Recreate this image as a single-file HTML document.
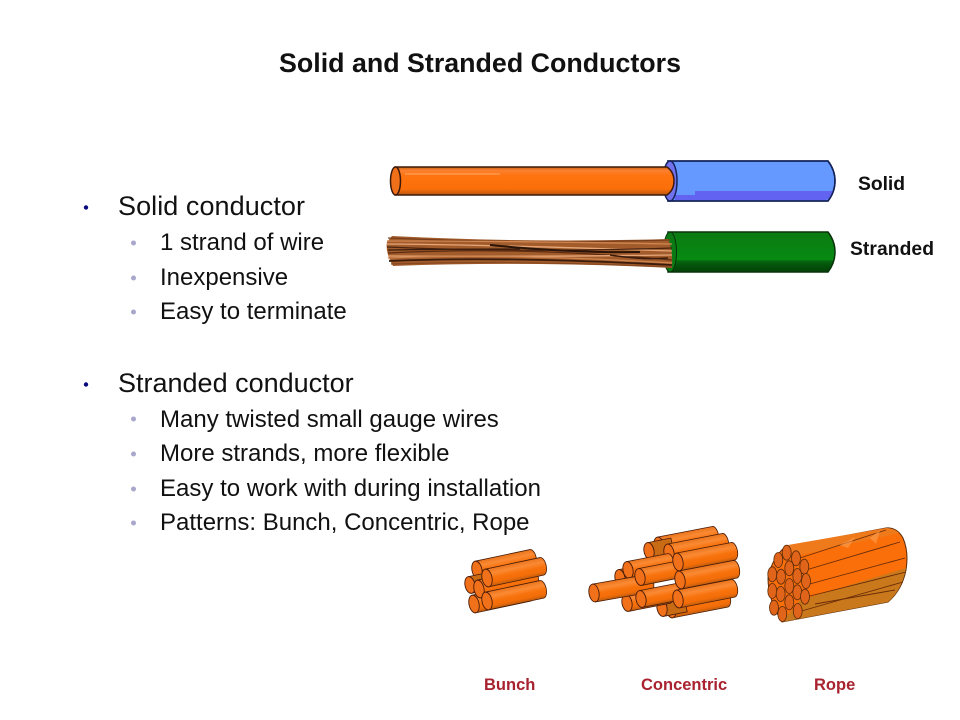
<!DOCTYPE html>
<html><head><meta charset="utf-8"><title>Solid and Stranded Conductors</title>
<style>html,body{margin:0;padding:0;background:#fff}svg{display:block}text{font-family:"Liberation Sans",Arial,sans-serif;fill:#111}</style></head>
<body>
<svg width="960" height="720" viewBox="0 0 960 720" xmlns="http://www.w3.org/2000/svg">
<defs>
<linearGradient id="og" x1="0" y1="0" x2="0" y2="1"><stop offset="0" stop-color="#c9600f"/><stop offset=".12" stop-color="#fb8030"/><stop offset=".3" stop-color="#ff7410"/><stop offset=".78" stop-color="#fb6f0a"/><stop offset="1" stop-color="#b9560f"/></linearGradient>
<linearGradient id="rg" x1="0" y1="0" x2="0" y2="1"><stop offset="0" stop-color="#e8741c"/><stop offset=".28" stop-color="#fb8a34"/><stop offset=".55" stop-color="#f8720c"/><stop offset=".8" stop-color="#f26c08"/><stop offset="1" stop-color="#bb5c0f"/></linearGradient>
<linearGradient id="gg" x1="0" y1="0" x2="0" y2="1"><stop offset="0" stop-color="#0b7a12"/><stop offset=".7" stop-color="#078a12"/><stop offset=".72" stop-color="#06670e"/><stop offset=".82" stop-color="#04550b"/><stop offset="1" stop-color="#033f08"/></linearGradient>
<g id="r60"><path d="M0-9H56A4.500 9 0 0 1 56 9H0Z" fill="url(#rg)" stroke="#4a1c08" stroke-width=".8"/><ellipse rx="5" ry="9" fill="#f1701a" stroke="#4a1c08" stroke-width=".9"/></g>
<g id="r45"><path d="M0-8.500H42A4.500 8.500 0 0 1 42 8.500H0Z" fill="url(#rg)" stroke="#4a1c08" stroke-width=".8"/><ellipse rx="5" ry="8.500" fill="#f1701a" stroke="#4a1c08" stroke-width=".9"/></g>
<g id="r20"><path d="M0-8.500H24V8.500H0Z" fill="#c96a14" stroke="#4a1c08" stroke-width=".8"/><ellipse rx="5" ry="8.500" fill="#f1701a" stroke="#4a1c08" stroke-width=".9"/></g>
</defs>
<rect width="960" height="720" fill="#fff"/>
<text x="480" y="72" text-anchor="middle" font-size="27" font-weight="700" textLength="402" lengthAdjust="spacingAndGlyphs">Solid and Stranded Conductors</text>

<!-- bullets -->
<circle cx="86" cy="207.500" r="2.200" fill="#0a0a80"/><circle cx="86" cy="384.500" r="2.200" fill="#0a0a80"/>
<g fill="#a9a7cc"><circle cx="133.500" cy="243" r="2.500"/><circle cx="133.500" cy="278" r="2.500"/><circle cx="133.500" cy="312" r="2.500"/><circle cx="133.500" cy="419" r="2.500"/><circle cx="133.500" cy="454" r="2.500"/><circle cx="133.500" cy="489" r="2.500"/><circle cx="133.500" cy="523" r="2.500"/></g>
<g font-size="24">
<text x="160" y="250">1 strand of wire</text>
<text x="160" y="285">Inexpensive</text>
<text x="160" y="319">Easy to terminate</text>
<text x="160" y="427">Many twisted small gauge wires</text>
<text x="160" y="461">More strands, more flexible</text>
<text x="160" y="496" textLength="381">Easy to work with during installation</text>
<text x="160" y="530">Patterns: Bunch, Concentric, Rope</text>
</g>
<text x="118" y="215" font-size="27" textLength="187">Solid conductor</text>
<text x="118" y="392" font-size="27">Stranded conductor</text>

<!-- solid wire: blue jacket -->
<path d="M668 161H828Q835 170 835 181T828 201H668Z" fill="#6699ff" stroke="#14235a" stroke-width="1.500"/>
<path d="M695 191H833Q832 197 826 200H675V195H695Z" fill="#6363f2"/>
<path d="M668 161H828Q835 170 835 181T828 201H668Z" fill="none" stroke="#14235a" stroke-width="1.500"/>
<ellipse cx="670" cy="181" rx="7" ry="20" fill="#7272ee" stroke="#14235a" stroke-width="1.500"/>
<!-- solid wire: copper -->
<path d="M395 167H667Q674 172 674 181T667 195H395Z" fill="url(#og)" stroke="#3d1a0a" stroke-width="1.500"/>
<ellipse cx="395.500" cy="181" rx="5" ry="14" fill="#f0701a" stroke="#3d1a0a" stroke-width="1.500"/>
<path d="M405 174H500" stroke="#ff9a4c" stroke-width="1.500"/>

<!-- stranded wire -->
<path d="M668 232H828Q835 241 835 252T828 272H668Z" fill="url(#gg)" stroke="#06340a" stroke-width="1.500"/>
<ellipse cx="670" cy="252" rx="6.500" ry="20" fill="#0a7a14" stroke="#06340a" stroke-width="1"/>
<path d="M392 236Q530 243 668 239Q673 250 672 268Q530 261 393 266Q385 252 387 242Z" fill="#a25c2c"/>
<g fill="none" stroke-width="1.300">
<path d="M388 238Q530 244 670 240" stroke="#7a3f1a"/>
<path d="M387 241Q520 241 672 244" stroke="#cf8550"/>
<path d="M387 244Q500 245 672 251" stroke="#e6a678"/>
<path d="M387 247Q520 253 672 248" stroke="#4a2410"/>
<path d="M388 250Q450 249 520 249" stroke="#3a1c0c"/>
<path d="M388 253Q520 246 672 260" stroke="#5e2c10"/>
<path d="M388 256Q530 257 672 255" stroke="#e6a678"/>
<path d="M388 258Q500 253 672 263" stroke="#cf8550"/>
<path d="M389 261Q500 256 672 265" stroke="#3a1c0c" stroke-width="1.800"/>
<path d="M391 264Q520 260 672 267" stroke="#8a4a20"/>
<path d="M490 245Q570 253 640 252" stroke="#2a1408" stroke-width="2"/>
<path d="M610 255Q640 260 668 258" stroke="#3a1c0c" stroke-width="1.500"/>
</g>
<text x="858" y="190" font-size="19.300" font-weight="700" textLength="47">Solid</text>
<text x="850" y="255" font-size="19.300" font-weight="700" textLength="84">Stranded</text>

<!-- bunch -->
<use href="#r60" transform="translate(477 570) rotate(-12)"/>
<use href="#r60" transform="translate(474 604) rotate(-12)"/>
<use href="#r20" transform="translate(470 585) rotate(-12)"/>
<use href="#r60" transform="translate(479 589) rotate(-12)"/>
<use href="#r60" transform="translate(487 578) rotate(-12)"/>
<use href="#r60" transform="translate(487 601) rotate(-12)"/>

<!-- concentric -->
<use href="#r60" transform="translate(659 546) rotate(-11)"/>
<use href="#r20" transform="translate(649 551) rotate(-11)"/>
<use href="#r60" transform="translate(669 553) rotate(-11)"/>
<use href="#r60" transform="translate(671 609) rotate(-11)"/>
<use href="#r20" transform="translate(662 608) rotate(-11)"/>
<use href="#r45" transform="translate(627 603) rotate(-11)"/>
<use href="#r20" transform="translate(620 578) rotate(-11)"/>
<use href="#r45" transform="translate(628 570) rotate(-11)"/>
<use href="#r60" transform="translate(594 593) rotate(-10)"/>
<use href="#r45" transform="translate(640 577) rotate(-11)"/>
<use href="#r45" transform="translate(641 599) rotate(-11)"/>
<use href="#r60" transform="translate(678 562) rotate(-11)"/>
<use href="#r60" transform="translate(680 580) rotate(-11)"/>
<use href="#r60" transform="translate(678 599) rotate(-11)"/>

<!-- rope -->
<path d="M785 547L886 528Q897 527 903 538Q909 552 906 570Q902 590 888 602L782 622Q768 600 768 578Q772 558 785 547Z" fill="#fb6f0a" stroke="#5a2a08" stroke-width="1"/>
<path d="M800 600L906 568Q902 590 888 602L782 622Z" fill="#c9791c"/>
<path d="M788 545L886 528Q894 528 899 533L795 556Z" fill="#ee7a1c"/>
<g fill="none" stroke="#6a2c08" stroke-width=".9">
<path d="M800 558L886 530"/><path d="M806 570L900 542"/><path d="M806 585L905 558"/><path d="M806 597L906 572"/><path d="M798 612L903 582"/><path d="M815 604L895 590"/>
</g>
<g fill="#ffa050" opacity=".6"><path d="M840 545L855 537L848 548Z"/><path d="M870 538L880 530L876 544Z"/></g>
<g fill="#e0641a" stroke="#5a2a08" stroke-width=".8">
<ellipse cx="786.700" cy="552.700" rx="4.500" ry="7.500"/><ellipse cx="778.300" cy="560" rx="4.500" ry="7.500"/><ellipse cx="796" cy="558.300" rx="4.500" ry="7.500"/><ellipse cx="772.300" cy="574.300" rx="4.500" ry="7.500"/><ellipse cx="781" cy="576.700" rx="4.500" ry="7.500"/><ellipse cx="789.300" cy="568.300" rx="4.500" ry="7.500"/><ellipse cx="804.300" cy="566.700" rx="4.500" ry="7.500"/><ellipse cx="797.300" cy="576" rx="4.500" ry="7.500"/><ellipse cx="806" cy="581" rx="4.500" ry="7.500"/><ellipse cx="772.300" cy="591" rx="4.500" ry="7.500"/><ellipse cx="780.700" cy="594" rx="4.500" ry="7.500"/><ellipse cx="789.300" cy="586" rx="4.500" ry="7.500"/><ellipse cx="797.300" cy="592.300" rx="4.500" ry="7.500"/><ellipse cx="805" cy="596.700" rx="4.500" ry="7.500"/><ellipse cx="774" cy="607.700" rx="4.500" ry="7.500"/><ellipse cx="782.300" cy="614" rx="4.500" ry="7.500"/><ellipse cx="789.300" cy="602.300" rx="4.500" ry="7.500"/><ellipse cx="797.700" cy="611" rx="4.500" ry="7.500"/>
</g>
<g font-size="16.500" font-weight="700">
<text x="484" y="690" style="fill:#a8232f">Bunch</text>
<text x="641" y="690" style="fill:#a8232f">Concentric</text>
<text x="814" y="690" style="fill:#a8232f">Rope</text>
</g>
</svg>
</body></html>
